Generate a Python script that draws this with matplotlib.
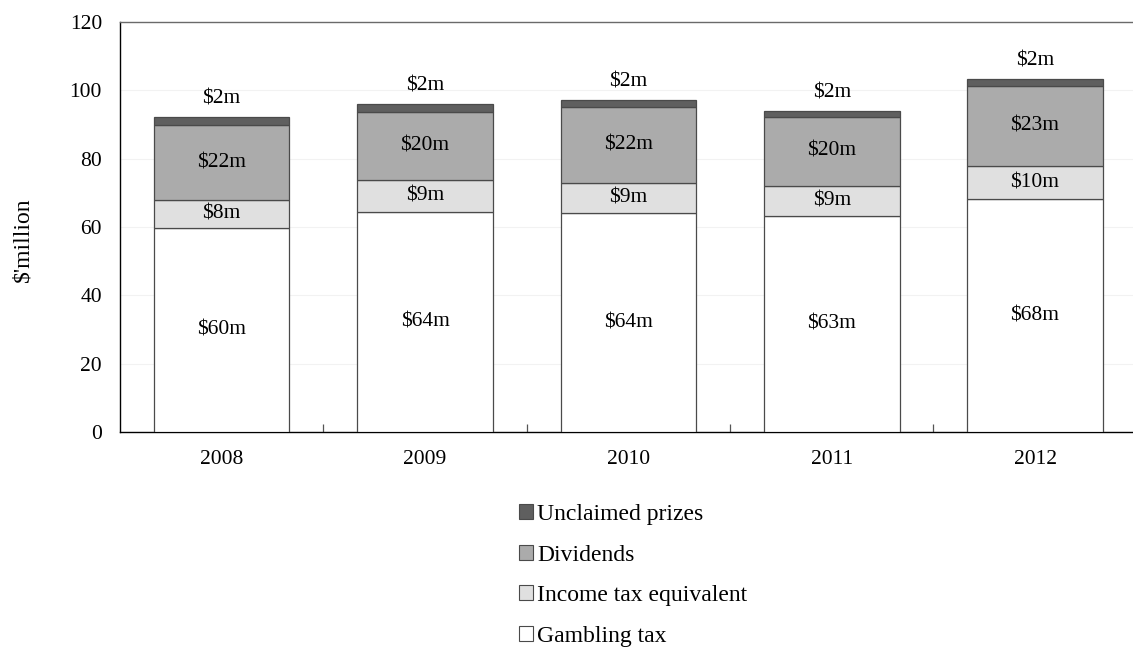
import matplotlib
matplotlib.use("Agg")
import matplotlib.pyplot as plt
import numpy as np
from matplotlib.patches import Patch

years = ["2008", "2009", "2010", "2011", "2012"]
gambling_tax = [59.6, 64.3, 64.0, 63.1, 68.1]
income_tax_eq = [8.2, 9.4, 9.0, 9.0, 9.8]
dividends = [22.0, 19.9, 22.1, 20.0, 23.3]
unclaimed = [2.3, 2.3, 2.1, 1.9, 2.0]

gambling_lbl = ["$60m", "$64m", "$64m", "$63m", "$68m"]
income_lbl = ["$8m", "$9m", "$9m", "$9m", "$10m"]
dividends_lbl = ["$22m", "$20m", "$22m", "$20m", "$23m"]
unclaimed_lbl = ["$2m", "$2m", "$2m", "$2m", "$2m"]

series_names = ["Gambling tax", "Income tax equivalent", "Dividends", "Unclaimed prizes"]
colors = ["#FFFFFF", "#E0E0E0", "#ABABAB", "#5F5F5F"]

plt.rcParams['font.family'] = ['Liberation Serif', 'DejaVu Serif']

fig = plt.figure(figsize=(11.33, 6.55), dpi=100)
ax = fig.add_axes([120/1133, 1-432/655, 1016.7/1133, 410/655])

x = np.arange(len(years))
w = 0.667
data = [gambling_tax, income_tax_eq, dividends, unclaimed]
labels = [gambling_lbl, income_lbl, dividends_lbl, unclaimed_lbl]
bottom = np.zeros(len(years))
fs = 15.5
for vals, col, lbls, name in zip(data, colors, labels, series_names):
    vals = np.array(vals)
    ax.bar(x, vals, w, bottom=bottom, color=col, edgecolor="#4a4a4a",
           linewidth=0.9, zorder=3, label=name)
    for i in range(len(years)):
        if name == "Unclaimed prizes":
            ax.annotate(lbls[i], (x[i], bottom[i] + vals[i]), xytext=(0, 18),
                        textcoords="offset pixels", ha="center", va="center",
                        fontsize=fs)
        else:
            ax.text(x[i], bottom[i] + vals[i] / 2, lbls[i], ha="center",
                    va="center", fontsize=fs, zorder=4)
    bottom = bottom + vals

ax.set_xlim(-0.5, 4.5)
ax.set_ylim(0, 120)
ax.set_yticks(np.arange(0, 121, 20))
ax.set_xticks(x)
ax.set_xticklabels(years)
ax.set_xticks(np.arange(0.5, 4.5, 1), minor=True)
ax.tick_params(axis="x", which="major", length=0, pad=13, labelsize=fs)
ax.tick_params(axis="x", which="minor", length=6, direction="in", color="#555555", width=0.9)
ax.tick_params(axis="y", length=0, pad=13, labelsize=fs)
ax.grid(axis="y", color="#F2F2F2", linewidth=0.8, zorder=0)

ax.spines["right"].set_visible(False)
ax.spines["top"].set_color("#6a6a6a")
ax.spines["left"].set_color("black")
ax.spines["bottom"].set_color("black")
for s in ["top", "left", "bottom"]:
    ax.spines[s].set_linewidth(1.0)

ax.set_ylabel("$'million", fontsize=17)
ax.yaxis.set_label_coords(-0.0856, 0.468)

handles = [Patch(facecolor=c, edgecolor="#4a4a4a", linewidth=0.8) for c in colors]
handles = handles[::-1]
names = series_names[::-1]
fig.legend(handles, names, loc="upper left", bbox_to_anchor=(519/1133, 1-504/655),
           frameon=False, fontsize=17, handlelength=0.6, handleheight=0.6,
           handletextpad=0.18, labelspacing=0.83, borderpad=0, borderaxespad=0)

fig.savefig("out.png", dpi=100)
